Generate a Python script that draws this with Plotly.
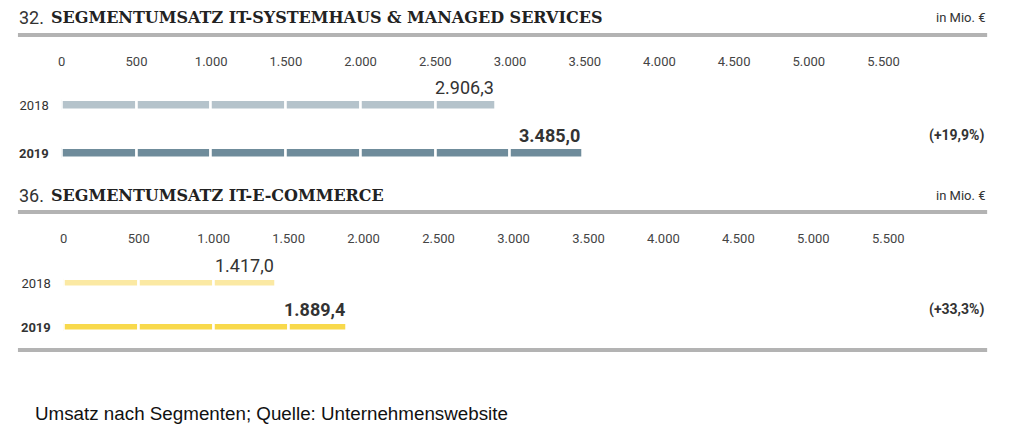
import plotly.graph_objects as go

# ---------------- data ----------------
years = ["2018", "2019"]
year_labels = ["2018", "<b>2019</b>"]
systemhaus_values = [2906.3, 3485.0]
ecommerce_values = [1417.0, 1889.4]
value_labels_sys = ["2.906,3", "<b>3.485,0</b>"]
value_labels_ecom = ["1.417,0", "<b>1.889,4</b>"]
growth_sys = "(+19,9%)"
growth_ecom = "(+33,3%)"
tick_values = [0, 500, 1000, 1500, 2000, 2500, 3000, 3500, 4000, 4500, 5000, 5500]
segment_size = 500
title_sys = "SEGMENTUMSATZ IT-SYSTEMHAUS & MANAGED SERVICES"
title_ecom = "SEGMENTUMSATZ IT-E-COMMERCE"
unit = "in Mio. €"
caption = "Umsatz nach Segmenten; Quelle: Unternehmenswebsite"

colors_sys = ["#b5c3cb", "#6f8c9b"]
colors_ecom = ["#fbe9a3", "#f8d94c"]

W, H = 1024, 428
def px(x):
    return x / W
def py(y):
    return 1 - y / H

fig = go.Figure()

def add_bars(values, colors, xa, ya):
    for i, v in enumerate(values):
        starts, lengths = [], []
        s = 0.0
        while s < v:
            starts.append(s)
            lengths.append(min(segment_size, v - s))
            s += segment_size
        fig.add_trace(go.Bar(
            orientation="h", y=[i] * len(starts), x=lengths, base=starts,
            width=0.2, marker=dict(color=colors[i], line=dict(color="white", width=2.5)),
            xaxis=xa, yaxis=ya, showlegend=False, hoverinfo="skip"))

add_bars(systemhaus_values, colors_sys, "x", "y")
add_bars(ecommerce_values, colors_ecom, "x2", "y2")

axis_font = dict(family="Roboto", size=13, color="#444")
xcommon = dict(range=[0, 6000], side="top", tickvals=tick_values, tickformat=",d",
               showgrid=False, zeroline=False, showline=False, ticks="", tickfont=axis_font)
ycommon = dict(tickvals=[0, 1], ticktext=year_labels, showgrid=False, zeroline=False,
               showline=False, ticks="", tickfont=dict(family="Roboto", size=13, color="#333"),
               ticklabelstandoff=12)

annotations = []
def value_annots(values, labels, xr, yr):
    for i, (v, t) in enumerate(zip(values, labels)):
        annotations.append(dict(x=v, y=i, xref=xr, yref=yr, text=t, showarrow=False,
                                xanchor="right", yanchor="bottom", yshift=5,
                                font=dict(family="Roboto", size=18, color="#333")))
value_annots(systemhaus_values, value_labels_sys, "x", "y")
value_annots(ecommerce_values, value_labels_ecom, "x2", "y2")

for txt, yr in [(growth_sys, "y"), (growth_ecom, "y2")]:
    annotations.append(dict(x=px(986), y=1, xref="paper", yref=yr, text="<b>" + txt + "</b>",
                            showarrow=False, xanchor="right", yanchor="middle", yshift=18,
                            font=dict(family="Roboto", size=14, color="#333")))

for num, title, ypix in [("32.", title_sys, 18), ("36.", title_ecom, 195)]:
    annotations.append(dict(x=px(13), y=py(ypix), xref="paper", yref="paper", text=num,
                            showarrow=False, xanchor="left", yanchor="middle",
                            font=dict(family="Roboto", size=18, color="#333")))
    annotations.append(dict(x=px(45), y=py(ypix), xref="paper", yref="paper", text="<b>" + title + "</b>",
                            showarrow=False, xanchor="left", yanchor="middle",
                            font=dict(family="DejaVu Serif", size=16, color="#222")))
    annotations.append(dict(x=px(987), y=py(ypix), xref="paper", yref="paper", text=unit,
                            showarrow=False, xanchor="right", yanchor="middle",
                            font=dict(family="Roboto", size=13, color="#333")))

annotations.append(dict(x=px(29), y=py(413), xref="paper", yref="paper", text=caption,
                        showarrow=False, xanchor="left", yanchor="middle",
                        font=dict(family="Liberation Sans", size=18.8, color="#111")))

shapes = []
for ypix in [35, 212, 350]:
    shapes.append(dict(type="line", xref="paper", yref="paper", x0=px(14), x1=px(987),
                       y0=py(ypix), y1=py(ypix), line=dict(color="#b3b3b3", width=4)))

fig.update_layout(
    width=W, height=H, margin=dict(l=0, r=0, t=0, b=0),
    paper_bgcolor="white", plot_bgcolor="white",
    separators=",.", barmode="overlay", bargap=0,
    xaxis=dict(domain=[px(58), px(958)], anchor="y", **xcommon),
    yaxis=dict(domain=[py(170), py(70)], range=[1.354, -0.729], anchor="x", **ycommon),
    xaxis2=dict(domain=[px(60), px(963)], anchor="y2", **xcommon),
    yaxis2=dict(domain=[py(345), py(247)], range=[1.409, -0.818], anchor="x2", **ycommon),
    annotations=annotations, shapes=shapes,
)

fig.write_html("out.html", config={"displayModeBar": False},
               post_script="document.body.style.margin='0';document.body.style.overflow='hidden';")
